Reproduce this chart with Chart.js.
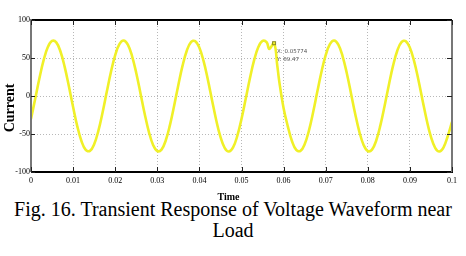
<!DOCTYPE html>
<html>
<head>
<meta charset="utf-8">
<script src="https://cdn.jsdelivr.net/npm/chart.js@4.4.0/dist/chart.umd.min.js"></script>
<style>
body{margin:0;background:#fff;width:466px;height:256px;overflow:hidden}
#wrap{position:relative;width:466px;height:204px}
#caption{font-family:"Liberation Serif","Times New Roman",serif;font-size:20px;text-align:center;line-height:21px;color:#000;margin-top:-5px}
</style>
</head>
<body>
<div id="wrap"><canvas id="chart"></canvas></div>
<div id="caption">Fig. 16. Transient Response of Voltage Waveform near<br>Load</div>
<script>
// campioni (tempo in s, corrente)
const times = [
  0, 0.001, 0.002, 0.003, 0.004, 0.005, 0.006, 0.007, 0.008, 0.009,
  0.010, 0.011, 0.012, 0.013, 0.014, 0.015, 0.016, 0.017, 0.018, 0.019,
  0.020, 0.021, 0.022, 0.023, 0.024, 0.025, 0.026, 0.027, 0.028, 0.029,
  0.030, 0.031, 0.032, 0.033, 0.034, 0.035, 0.036, 0.037, 0.038, 0.039,
  0.040, 0.041, 0.042, 0.043, 0.044, 0.045, 0.046, 0.047, 0.048, 0.049,
  0.050, 0.051, 0.052, 0.053, 0.054, 0.055, 0.056, 0.0566, 0.05774, 0.0585, 0.059,
  0.060, 0.061, 0.062, 0.063, 0.064, 0.065, 0.066, 0.067, 0.068, 0.069,
  0.070, 0.071, 0.072, 0.073, 0.074, 0.075, 0.076, 0.077, 0.078, 0.079,
  0.080, 0.081, 0.082, 0.083, 0.084, 0.085, 0.086, 0.087, 0.088, 0.089,
  0.090, 0.091, 0.092, 0.093, 0.094, 0.095, 0.096, 0.097, 0.098, 0.099,
  0.100
];
const current = [
  -30.2, -3.7, 23.4, 47.2, 64.4, 72.5, 70.5, 58.5, 38.3, 12.8,
  -14.6, -39.9, -59.6, -70.9, -72.3, -63.5, -45.8, -21.7, 5.5, 31.9,
  53.8, 68.2, 73.0, 67.5, 52.6, 30.3, 3.7, -23.4, -47.2, -64.4,
  -72.5, -70.5, -58.5, -38.3, -12.8, 14.6, 39.9, 59.6, 70.9, 72.3,
  63.5, 45.8, 21.7, -5.5, -31.9, -53.8, -68.2, -73.0, -67.5, -52.6,
  -30.2, -3.7, 23.4, 47.2, 64.4, 72.5, 70.5, 62.0, 69.47, 40.0, 18.0,
  -16.0, -39.9, -59.6, -70.9, -72.3, -63.5, -45.8, -21.7, 5.5, 31.9,
  53.8, 68.2, 73.0, 67.5, 52.6, 30.3, 3.7, -23.4, -47.2, -64.4,
  -72.5, -70.5, -58.5, -38.3, -12.8, 14.6, 39.9, 59.6, 70.9, 72.3,
  63.5, 45.8, 21.7, -5.5, -31.9, -53.8, -68.2, -73.0, -67.5, -52.6,
  -34.0
];
const xTicks = [0, 0.01, 0.02, 0.03, 0.04, 0.05, 0.06, 0.07, 0.08, 0.09, 0.1];
const xTickLabels = ['0', '0.01', '0.02', '0.03', '0.04', '0.05', '0.06', '0.07', '0.08', '0.09', '0.1'];
const yTicks = [-100, -50, 0, 50, 100];
const tip = { x: 0.05774, y: 69.47 };

const points = times.map((t, i) => ({ x: t, y: current[i] }));
const serif = '"Liberation Serif", "Times New Roman", serif';

// cornice, tacche interne, titoli assi e datatip
const framePlugin = {
  id: 'frame',
  afterDraw(chart) {
    const { ctx, chartArea: a, scales } = chart;
    ctx.save();
    ctx.setLineDash([]);
    ctx.lineWidth = 2;
    ctx.strokeStyle = '#000';
    ctx.beginPath();
    ctx.moveTo(a.left, a.top); ctx.lineTo(a.right, a.top);
    ctx.moveTo(a.left, a.bottom); ctx.lineTo(a.right + 1, a.bottom);
    ctx.stroke();
    ctx.strokeStyle = '#777';
    ctx.beginPath();
    ctx.moveTo(a.right, a.top); ctx.lineTo(a.right, a.bottom);
    ctx.moveTo(a.left, a.top - 1); ctx.lineTo(a.left, a.bottom);
    ctx.stroke();
    ctx.strokeStyle = '#222';
    ctx.lineWidth = 1;
    xTicks.forEach(v => {
      const px = Math.round(scales.x.getPixelForValue(v)) + 0.5;
      ctx.beginPath();
      ctx.moveTo(px, a.top); ctx.lineTo(px, a.top + 5);
      ctx.moveTo(px, a.bottom); ctx.lineTo(px, a.bottom - 5);
      ctx.stroke();
    });
    yTicks.forEach(v => {
      const py = Math.round(scales.y.getPixelForValue(v)) + 0.5;
      ctx.beginPath();
      ctx.moveTo(a.right, py); ctx.lineTo(a.right - 5, py);
      ctx.moveTo(a.left, py); ctx.lineTo(a.left + 4, py);
      ctx.stroke();
    });
    // titoli degli assi
    ctx.fillStyle = '#000';
    ctx.font = 'bold 10px ' + serif;
    ctx.textAlign = 'center';
    ctx.textBaseline = 'alphabetic';
    ctx.fillText('Time', (a.left + a.right) / 2 - 13, a.bottom + 28);
    ctx.save();
    ctx.translate(14, (a.top + a.bottom) / 2 + 12);
    ctx.rotate(-Math.PI / 2);
    ctx.font = 'bold 14px ' + serif;
    ctx.fillText('Current', 0, 0);
    ctx.restore();
    // datatip
    const mx = scales.x.getPixelForValue(tip.x);
    const my = scales.y.getPixelForValue(tip.y);
    ctx.strokeStyle = '#8a8a20';
    ctx.strokeRect(mx - 1.5, my - 1.5, 3, 3);
    ctx.fillStyle = '#555';
    ctx.textAlign = 'left';
    ctx.font = '5.5px "DejaVu Sans", sans-serif';
    ctx.fillText('X: ' + tip.x, mx + 3, my + 10);
    ctx.fillText('Y: ' + tip.y, mx + 3, my + 18);
    ctx.restore();
  }
};

new Chart(document.getElementById('chart'), {
  type: 'line',
  data: {
    datasets: [{
      data: points,
      borderColor: '#f0f028',
      borderWidth: 2.6,
      pointRadius: 0,
      tension: 0.4,
      fill: false
    }]
  },
  options: {
    responsive: true,
    maintainAspectRatio: false,
    animation: false,
    events: [],
    layout: { padding: { left: 0, top: 20, right: 14, bottom: 0 } },
    plugins: { legend: { display: false }, tooltip: { enabled: false } },
    scales: {
      x: {
        type: 'linear',
        min: 0,
        max: 0.1,
        afterBuildTicks: s => { s.ticks = xTicks.map(v => ({ value: v })); },
        afterFit: s => { s.height = 32; },
        ticks: {
          color: '#000',
          font: { family: serif, size: 8 },
          padding: 4,
          maxRotation: 0,
          callback: (v, i) => xTickLabels[i]
        },
        grid: {
          drawTicks: false,
          color: c => (c.tick && (c.tick.value === 0 || c.tick.value === 0.1)) ? 'rgba(0,0,0,0)' : '#b8b8b8',
          lineWidth: 1
        },
        border: { display: false, dash: [1, 2] }
      },
      y: {
        min: -100,
        max: 100,
        afterBuildTicks: s => { s.ticks = yTicks.map(v => ({ value: v })); },
        afterFit: s => { s.width = 31; },
        ticks: {
          color: '#000',
          font: { family: serif, size: 8 },
          padding: 1
        },
        grid: {
          drawTicks: false,
          color: c => (c.tick && Math.abs(c.tick.value) === 100) ? 'rgba(0,0,0,0)' : '#b8b8b8',
          lineWidth: 1
        },
        border: { display: false, dash: [1, 2] }
      }
    }
  },
  plugins: [framePlugin]
});
</script>
</body>
</html>
